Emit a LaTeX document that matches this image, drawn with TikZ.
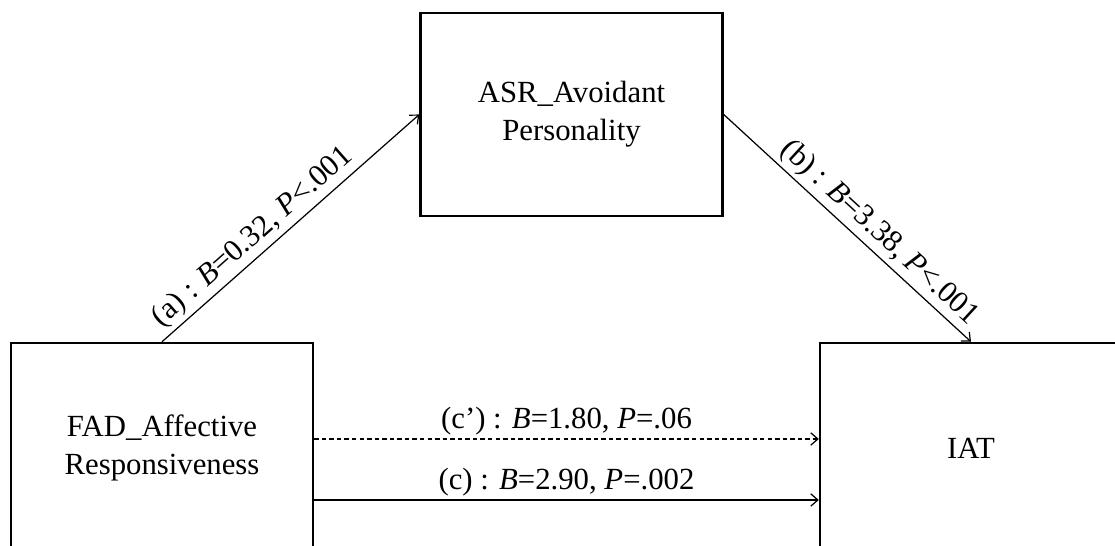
\documentclass[tikz,border=0pt]{standalone}
\usepackage{fontspec}
\setmainfont{Liberation Serif}
\usetikzlibrary{arrows.meta}

\begin{document}
\begin{tikzpicture}[
  var/.style={draw, line width=1.4pt, minimum width=6.04cm, minimum height=4.06cm,
    align=center, font=\fontsize{17.5}{21.5}\selectfont},
  low/.style={minimum height=4.2cm},
  effect/.style={-{Straight Barb[length=4pt, width=7pt]}, line width=0.7pt,
    font=\fontsize{17.5}{21.5}\selectfont},
  coef/.style={inner sep=2pt},
]
  \useasboundingbox (0, 0) rectangle (22.3, 10.92);
  \clip (0, 0) rectangle (22.3, 10.92);

  \node[var] (asr) at (11.43, 8.63) {ASR\_Avoidant\\Personality};
  \node[var, low] (fad) at (3.24, 1.96) {FAD\_Affective\\Responsiveness};
  \node[var, low] (iat) at (19.42, 1.96) {IAT};

  \draw[effect] (fad.north) -- node[coef, pos=0.4, sloped, above]
    {(a) : \textit{B}=0.32, \textit{P}<.001} (asr.west);
  \draw[effect] (asr.east) -- node[coef, pos=0.58, sloped, above]
    {(b) : \textit{B}=3.38, \textit{P}<.001} (iat.north);

  \draw[effect, dash pattern=on 2.5pt off 1.8pt] ([yshift=0.18cm]fad.east)
    -- node[coef, above] {(c’) : \textit{B}=1.80, \textit{P}=.06} ([yshift=0.18cm]iat.west);
  \draw[effect] ([yshift=-1.04cm]fad.east)
    -- node[coef, above] {(c) : \textit{B}=2.90, \textit{P}=.002} ([yshift=-1.04cm]iat.west);
\end{tikzpicture}
\end{document}
